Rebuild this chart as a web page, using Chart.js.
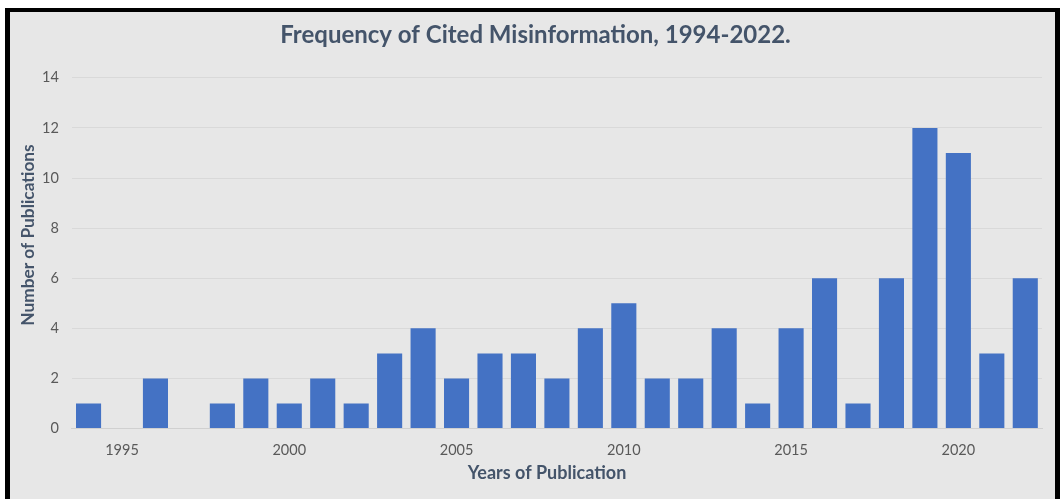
<!DOCTYPE html>
<html>
<head>
<meta charset="utf-8">
<script src="https://cdn.jsdelivr.net/npm/chart.js@4.4.0/dist/chart.umd.min.js"></script>
<style>
  body { margin: 0; background: #ffffff; }
  #frame {
    position: absolute; left: 5px; top: 8px;
    width: 1045px; height: 491px;
    border-top: 4px solid #000; border-left: 5px solid #000; border-right: 5px solid #000;
    background: #e7e7e7;
  }
  #wrap { position: relative; width: 1045px; height: 487px; }
</style>
</head>
<body>
<div id="frame"><div id="wrap"><canvas id="chart"></canvas></div></div>
<script>
// Publication years and counts
const years = [1994, 1995, 1996, 1997, 1998, 1999, 2000, 2001, 2002, 2003, 2004, 2005, 2006, 2007, 2008,
               2009, 2010, 2011, 2012, 2013, 2014, 2015, 2016, 2017, 2018, 2019, 2020, 2021, 2022];
const counts = [1, 0, 2, 0, 1, 2, 1, 2, 1, 3, 4, 2, 3, 3, 2,
                4, 5, 2, 2, 4, 1, 4, 6, 1, 6, 12, 11, 3, 6];
const yTicks = [0, 2, 4, 6, 8, 10, 12, 14];

const font = "Lato, 'Open Sans', sans-serif";
const titleColor = '#44546a';

// axis titles drawn by hand, in the original they are not centred on the plot
const axisTitlesPlugin = {
    id: 'axisTitles',
    afterDraw(chart) {
        const ctx = chart.ctx;
        ctx.save();
        ctx.font = `bold 18px ${font}`;
        ctx.fillStyle = titleColor;
        ctx.textAlign = 'center';
        ctx.textBaseline = 'middle';
        ctx.fillText('Years of Publication', 537, 461);
        ctx.font = `bold 17.3px ${font}`;
        ctx.translate(18, 223);
        ctx.rotate(-Math.PI / 2);
        ctx.fillText('Number of Publications', 0, 0);
        ctx.restore();
    }
};

new Chart(document.getElementById('chart'), {
    type: 'bar',
    data: {
        labels: years,
        datasets: [{
            data: counts,
            backgroundColor: '#4472c4',
            categoryPercentage: 1,
            barPercentage: 0.75
        }]
    },
    options: {
        responsive: true,
        maintainAspectRatio: false,
        animation: false,
        layout: { padding: { left: 19, right: 13, top: 0, bottom: 27 } },
        plugins: {
            legend: { display: false },
            tooltip: { enabled: false },
            title: {
                display: true,
                text: 'Frequency of Cited Misinformation, 1994-2022.',
                color: titleColor,
                font: { family: font, size: 24, weight: 'bold' },
                padding: { top: 9, bottom: 28 }
            }
        },
        scales: {
            x: {
                grid: { display: false, drawTicks: false },
                border: { display: true, color: '#d0d0d0', width: 1 },
                ticks: {
                    autoSkip: false,
                    maxRotation: 0,
                    color: '#595959',
                    font: { family: font, size: 14.5 },
                    padding: 13,
                    callback: function (value) {
                        const y = years[value];
                        return y % 5 === 0 ? String(y) : '';
                    }
                }
            },
            y: {
                min: 0,
                max: 14,
                afterBuildTicks: axis => { axis.ticks = yTicks.map(v => ({ value: v })); },
                grid: { color: '#d9d9d9', drawTicks: false },
                border: { display: false },
                ticks: {
                    color: '#595959',
                    font: { family: font, size: 14.5 },
                    padding: 13
                }
            }
        }
    },
    plugins: [axisTitlesPlugin]
});
</script>
</body>
</html>
